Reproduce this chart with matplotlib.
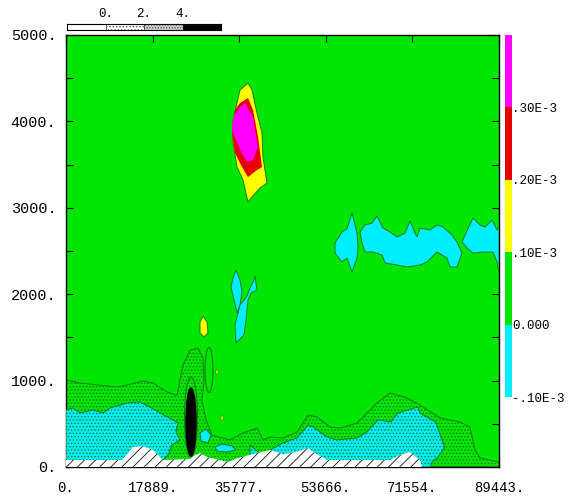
import numpy as np
import matplotlib.pyplot as plt
from matplotlib.patches import Ellipse
from matplotlib.ticker import MultipleLocator

plt.rcParams['font.family'] = ['Liberation Mono', 'DejaVu Sans Mono']
plt.rcParams['hatch.linewidth'] = 0.6

# sumbu
x_ticks = [0, 17889, 35777, 53666, 71554, 89443]
x_labels = ['0.', '17889.', '35777.', '53666.', '71554.', '89443.']
y_ticks = [0, 1000, 2000, 3000, 4000, 5000]
y_labels = ['0.', '1000.', '2000.', '3000.', '4000.', '5000.']

# skala warna
level_labels = ['-.10E-3', '0.000', '.10E-3', '.20E-3', '.30E-3']
level_colors = ['#00eeff', '#00e600', '#ffff00', '#e60000', '#ff00ff']

# skala titik (atas)
scale_edges = [-2, 0, 2, 4, 6]
scale_ticks = [0, 2, 4]
scale_labels = ['0.', '2.', '4.']

# terrain (x, y)
terrain = [(0, 0), (0, 81), (11570, 81), (13840, 231), (15910, 243), (17970, 197),
           (20040, 81), (25615, 93), (26647, 139), (27680, 162), (29126, 116),
           (33464, 58), (35530, 104), (38630, 150), (42140, 197), (44830, 150),
           (47510, 174), (49990, 220), (51440, 162), (53915, 81), (66929, 81),
           (68994, 139), (71060, 174), (73126, 81), (73539, 0)]

# daerah hijau bertitik
green_dot = [(0, 1007), (2890, 972), (10540, 926), (12600, 949), (15910, 995),
             (17970, 972), (20860, 868), (22930, 833), (24170, 1181), (25615, 1354),
             (27267, 1377), (28300, 1262), (28507, 1007), (28094, 775), (28920, 544),
             (30159, 370), (33877, 313), (36563, 394), (39455, 451), (40694, 313),
             (42140, 347), (44830, 336), (47718, 405), (49990, 602), (51850, 579),
             (54535, 463), (56600, 451), (60112, 509), (64450, 752), (66929, 856),
             (70027, 810), (73126, 718), (77257, 567), (81389, 521), (83454, 463),
             (84487, 197), (85520, 104), (89443, 58), (89443, 0), (0, 0)]

# daerah cyan bertitik
cyan_left = [(0, 660), (1450, 683), (2890, 625), (5580, 660), (7640, 625), (9090, 683),
             (12600, 741), (15290, 752), (17350, 694), (19420, 625), (22100, 544),
             (23136, 509), (22723, 405), (23549, 313), (21896, 255), (21070, 139),
             (20040, 81), (20040, 0), (0, 0)]
cyan_right = [(38009, 255), (39660, 174), (40488, 139), (42140, 197), (44830, 278),
              (47720, 336), (49990, 486), (51020, 463), (53915, 347), (55980, 313),
              (60112, 336), (62180, 405), (64450, 544), (67100, 521), (68580, 625),
              (70650, 660), (72680, 694), (73090, 625), (76400, 521), (77430, 347),
              (78250, 231), (76840, 116), (75400, 46), (75400, 0), (38009, 0)]
cyan_small1 = [(27680, 394), (28920, 440), (29953, 370), (29333, 278), (27887, 301)]
cyan_small2 = [(30779, 231), (32225, 266), (34291, 243), (35117, 197), (33051, 174),
               (31192, 185)]

# sel hitam dan kontur sekitarnya (pusat x, pusat y, lebar, tinggi)
black_cell = (25821, 521, 2066, 787)
cell_ring = (25821, 579, 2685, 926)
side_loop = (29540, 1123, 1650, 521)

# gumpalan tengah
yellow_small = [(28300, 1748), (29126, 1678), (29333, 1551), (28507, 1505),
                (27680, 1551), (27680, 1678)]
yellow_dots = [(31192, 1100), (32225, 567)]
cyan_a = [(35117, 2280), (35943, 2164), (36356, 2025), (35943, 1875), (35323, 1782),
          (34704, 1933), (34084, 2083), (34497, 2187)]
cyan_b = [(39042, 2211), (39455, 2049), (38215, 2014), (37596, 1933), (37183, 1701),
          (36769, 1528), (35117, 1435), (34910, 1644), (35943, 1875), (37389, 1979),
          (38009, 2072), (38629, 2141)]

# plume atas
plume_yellow = [(37596, 4444), (38422, 4363), (39455, 4097), (40488, 3866),
                (40694, 3588), (41520, 3287), (40075, 3229), (38422, 3125),
                (37596, 3067), (36563, 3322), (35323, 3472), (34497, 3750),
                (34497, 4016), (35943, 4363)]
plume_red = [(37596, 4271), (38629, 4132), (39661, 3819), (40488, 3472), (39455, 3437),
             (37596, 3356), (36356, 3472), (34910, 3634), (34291, 3866), (34910, 4132),
             (35943, 4213)]
plume_magenta = [(36976, 4213), (38629, 4051), (39661, 3704), (38629, 3553),
                 (37389, 3530), (35943, 3669), (34291, 3900), (34497, 4051),
                 (35943, 4167)]

# pita cyan atas
band_1 = [(55567, 2593), (57013, 2720), (58046, 2755), (59079, 2940), (60112, 2708),
          (60318, 2546), (60112, 2419), (59079, 2257), (58046, 2419), (57013, 2373),
          (55567, 2477)]
band_2 = [(60732, 2720), (61764, 2801), (63210, 2824), (64243, 2905), (65483, 2766),
          (66929, 2720), (68375, 2662), (70027, 2708), (71060, 2847), (72093, 2708),
          (72506, 2662), (73126, 2766), (75191, 2743), (76637, 2801), (77877, 2778),
          (79736, 2685), (80769, 2604), (81802, 2477), (80769, 2315), (79323, 2315),
          (78703, 2419), (76637, 2488), (74572, 2373), (73126, 2338), (70441, 2315),
          (68375, 2338), (65896, 2361), (65276, 2454), (63417, 2488), (61764, 2488),
          (61145, 2593)]
band_3 = [(81802, 2604), (82422, 2685), (84074, 2882), (85520, 2801), (86553, 2778),
          (87999, 2859), (89032, 2743), (89443, 2789), (89443, 2257), (89032, 2373),
          (88205, 2488), (86140, 2488), (84074, 2477), (82835, 2535)]

green = level_colors[1]
cyan = level_colors[0]
edge = '#1d7a1d'

fig = plt.figure(figsize=(5.79, 4.97), dpi=100)
ax = fig.add_axes([66 / 579, 30 / 497, 433 / 579, 432 / 497])
ax.set_facecolor(green)


def poly(pts, color, hatch=None, ec=edge, lw=0.7, z=2):
    p = np.array(pts)
    ax.fill(p[:, 0], p[:, 1], facecolor=color, edgecolor=ec, hatch=hatch,
            linewidth=lw, zorder=z)


poly(green_dot, green, hatch='.....', z=2)
poly(cyan_left, cyan, hatch='.....', z=3)
poly(cyan_right, cyan, hatch='.....', z=3)
poly(cyan_small1, cyan, z=3)
poly(cyan_small2, cyan, z=3)

for cx, cy, w, h in [cell_ring, side_loop]:
    ax.add_patch(Ellipse((cx, cy), w, h, facecolor='none', edgecolor=edge,
                         linewidth=0.8, zorder=4))
cx, cy, w, h = black_cell
ax.add_patch(Ellipse((cx, cy), w, h, facecolor='black', edgecolor='black', zorder=5))

poly(terrain, 'white', hatch='///', ec='#111111', lw=0.0, z=6)

poly(yellow_small, level_colors[2], z=3)
for x, y in yellow_dots:
    ax.add_patch(Ellipse((x, y), 450, 60, facecolor=level_colors[2], edgecolor=edge,
                         linewidth=0.4, zorder=3))
poly(cyan_a, cyan, z=3)
poly(cyan_b, cyan, z=3)
poly(plume_yellow, level_colors[2], z=3)
poly(plume_red, level_colors[3], ec='none', z=3)
poly(plume_magenta, level_colors[4], ec='none', z=3)
for b in [band_1, band_2, band_3]:
    poly(b, cyan, z=3)

ax.set_xlim(0, 89443)
ax.set_ylim(0, 5000)
ax.set_xticks(x_ticks)
ax.set_xticklabels(x_labels)
ax.set_yticks(y_ticks)
ax.set_yticklabels(y_labels)
ax.yaxis.set_minor_locator(MultipleLocator(500))
ax.tick_params(which='both', direction='in', top=True, right=True, length=5,
               width=0.8, labelsize=10)
ax.tick_params(axis='x', pad=10)
ax.tick_params(axis='y', pad=7, labelsize=11)
for s in ax.spines.values():
    s.set_linewidth(1.0)

# colorbar
cax = fig.add_axes([505 / 579, 100 / 497, 7 / 579, 362 / 497])
cax.bar(0, 1, bottom=np.arange(len(level_colors)), width=1, color=level_colors,
        align='edge')
cax.set_xlim(0, 1)
cax.set_ylim(0, len(level_colors))
cax.set_xticks([])
cax.yaxis.tick_right()
cax.set_yticks(np.arange(len(level_labels)))
cax.set_yticklabels(level_labels)
cax.tick_params(axis='y', length=0, pad=0, labelsize=9)
for s in cax.spines.values():
    s.set_visible(False)

# skala atas
sax = fig.add_axes([67 / 579, 467 / 497, 154 / 579, 6 / 497])
sax.bar(scale_edges[0], 2, width=2, align='edge', color='white', edgecolor='#555555',
        linewidth=0.6)
sax.bar(scale_edges[1], 2, width=2, align='edge', color='white', edgecolor='#555555',
        hatch='.....', linewidth=0.6)
sax.bar(scale_edges[2], 2, width=2, align='edge', color='#d0d0d0', edgecolor='#444444',
        hatch='......', linewidth=0.6)
sax.bar(scale_edges[3], 2, width=2, align='edge', color='black', edgecolor='black',
        linewidth=0.6)
sax.set_xlim(scale_edges[0], scale_edges[-1])
sax.set_ylim(0, 2)
sax.set_yticks([])
sax.xaxis.tick_top()
sax.set_xticks(scale_ticks)
sax.set_xticklabels(scale_labels)
sax.tick_params(axis='x', length=0, pad=3, labelsize=9)
for s in sax.spines.values():
    s.set_linewidth(0.8)

plt.savefig('out.png', dpi=100)
